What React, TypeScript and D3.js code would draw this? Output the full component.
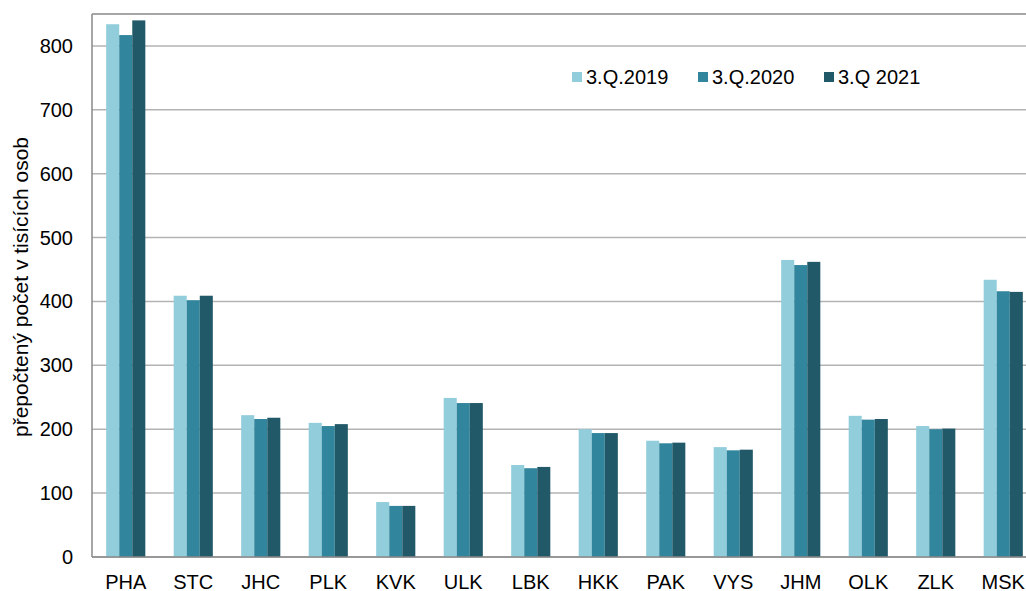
import React from "react";
import * as d3 from "d3";

const categories = ["PHA", "STC", "JHC", "PLK", "KVK", "ULK", "LBK", "HKK", "PAK", "VYS", "JHM", "OLK", "ZLK", "MSK"];
const seriesNames = ["3.Q.2019", "3.Q.2020", "3.Q 2021"];
const q2019 = [834, 409, 222, 210, 86, 249, 144, 200, 182, 172, 465, 221, 205, 434];
const q2020 = [817, 402, 216, 205, 80, 241, 139, 194, 178, 167, 457, 215, 200, 416];
const q2021 = [840, 409, 218, 208, 80, 241, 141, 194, 179, 168, 462, 216, 201, 415];
const yTicks = [0, 100, 200, 300, 400, 500, 600, 700, 800];
const colors = ["#92cddc", "#31859c", "#215968"];

const width = 1026;
const height = 591;
const margin = { top: 14, right: -11, bottom: 34, left: 92 };
const font = "Liberation Sans, Arial, sans-serif";

export default function App() {
  const series = [q2019, q2020, q2021];
  const innerW = width - margin.left - margin.right;
  const innerH = height - margin.top - margin.bottom;

  const x0 = d3.scaleBand<string>().domain(categories).range([0, innerW]).paddingInner(0.42).paddingOuter(0.21);
  const x1 = d3.scaleBand<number>().domain([0, 1, 2]).range([0, x0.bandwidth()]).padding(0);
  const y = d3.scaleLinear().domain([0, 850]).range([innerH, 0]);

  return (
    <svg width={width} height={height} style={{ position: "absolute", left: 0, top: 0, background: "#fff" }}>
      <g transform={`translate(${margin.left},${margin.top})`}>
        {yTicks.map((t) => (
          <g key={t}>
            <line x1={0} x2={innerW} y1={y(t)} y2={y(t)} stroke="#b3b3b3" strokeWidth={1.5} />
            <text x={-19} y={y(t)} dy="0.35em" textAnchor="end" fontFamily={font} fontSize={20} fill="#000">
              {t}
            </text>
          </g>
        ))}
        {categories.map((c, i) => (
          <g key={c} transform={`translate(${x0(c)},0)`}>
            {series.map((s, k) => (
              <rect key={k} x={x1(k)} y={y(s[i])} width={x1.bandwidth()} height={innerH - y(s[i])} fill={colors[k]} />
            ))}
            <text x={x0.bandwidth() / 2} y={height - margin.top - 2} textAnchor="middle" fontFamily={font} fontSize={20} fill="#000">
              {c}
            </text>
          </g>
        ))}
        <line x1={0} x2={0} y1={0} y2={innerH} stroke="#888" strokeWidth={1.5} />
        <line x1={0} x2={innerW} y1={0} y2={0} stroke="#888" strokeWidth={1.5} />
        <line x1={0} x2={innerW} y1={innerH} y2={innerH} stroke="#888" strokeWidth={1.5} />
      </g>
      <text
        transform={`translate(28,287) rotate(-90)`}
        textAnchor="middle"
        fontFamily={font}
        fontSize={21}
        fill="#000"
      >
        přepočtený počet v tisících osob
      </text>
      <g transform="translate(572,77)">
        {seriesNames.map((n, k) => (
          <g key={n} transform={`translate(${k * 126},0)`}>
            <rect x={0} y={-5} width={10} height={10} fill={colors[k]} />
            <text x={14} y={0} dy="0.35em" fontFamily={font} fontSize={20} fill="#000">
              {n}
            </text>
          </g>
        ))}
      </g>
    </svg>
  );
}
